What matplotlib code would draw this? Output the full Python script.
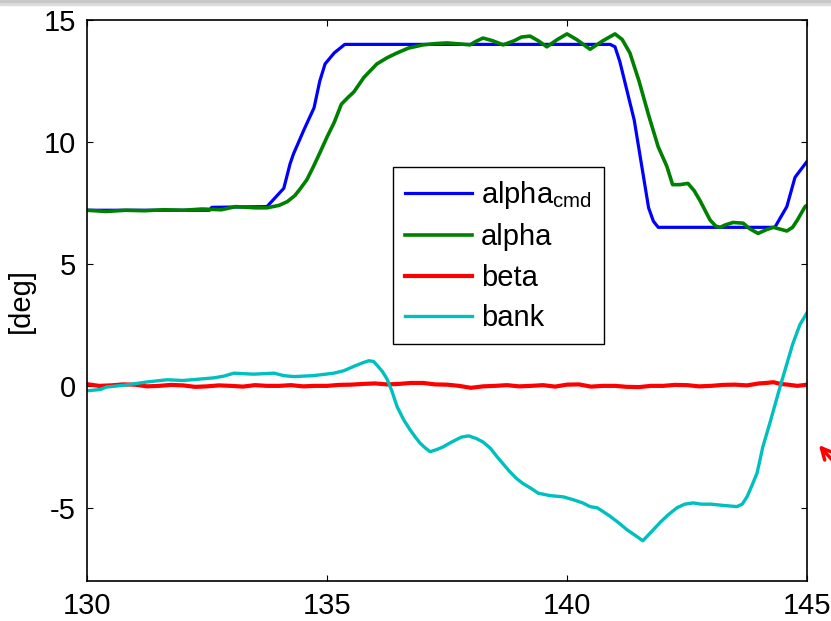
import matplotlib.pyplot as plt
from matplotlib.patches import Rectangle

# alpha command [deg]
t_cmd = [130.0, 132.55, 132.6, 133.75, 134.1, 134.23, 134.3, 134.52, 134.73, 134.85,
         134.96, 135.15, 135.37, 140.9, 141.0, 141.1, 141.4, 141.7, 141.8, 141.9,
         144.33, 144.58, 144.75, 145.0]
alpha_cmd = [7.2, 7.2, 7.32, 7.35, 8.1, 9.1, 9.5, 10.5, 11.4, 12.5,
             13.2, 13.65, 14.0, 14.0, 13.9, 13.3, 10.9, 7.3, 6.75, 6.5,
             6.5, 7.35, 8.55, 9.2]

# measured alpha [deg]
t_alpha = [130.0, 130.4, 130.8, 131.2, 131.6, 132.0, 132.4, 132.8, 133.1, 133.5, 133.75,
           134.0, 134.17, 134.33, 134.45, 134.58, 134.72, 134.85, 135.0, 135.15, 135.3,
           135.45, 135.56, 135.77, 136.04, 136.25, 136.46, 136.7, 137.0, 137.25, 137.5,
           137.75, 137.98, 138.1, 138.25, 138.45, 138.67, 138.9, 139.05, 139.23, 139.4,
           139.58, 139.8, 140.0, 140.2, 140.48, 140.75, 141.0, 141.15, 141.31, 141.5,
           141.7, 141.9, 142.08, 142.2, 142.35, 142.52, 142.65, 142.77, 142.98, 143.1,
           143.19, 143.3, 143.46, 143.67, 143.8, 143.98, 144.15, 144.3, 144.45, 144.58,
           144.7, 144.8, 144.96, 145.0]
alpha = [7.2, 7.15, 7.2, 7.18, 7.22, 7.2, 7.25, 7.22, 7.35, 7.3, 7.3,
         7.4, 7.55, 7.8, 8.1, 8.45, 9.0, 9.55, 10.2, 10.8, 11.55,
         11.85, 12.05, 12.65, 13.2, 13.45, 13.65, 13.85, 13.98, 14.03, 14.06,
         14.02, 13.98, 14.12, 14.26, 14.15, 13.98, 14.15, 14.3, 14.34, 14.15,
         13.9, 14.2, 14.43, 14.2, 13.8, 14.15, 14.43, 14.2, 13.65, 12.5,
         11.1, 9.8, 9.0, 8.25, 8.25, 8.3, 8.0, 7.6, 6.8, 6.55,
         6.5, 6.6, 6.7, 6.67, 6.45, 6.25, 6.4, 6.5, 6.42, 6.35,
         6.5, 6.8, 7.35, 7.4]

# sideslip beta [deg]
t_beta = [130.0, 130.25, 130.5, 130.75, 131.0, 131.25, 131.5, 131.75, 132.0, 132.25,
          132.5, 132.75, 133.0, 133.25, 133.5, 133.75, 134.0, 134.25, 134.5, 134.75,
          135.0, 135.25, 135.5, 135.75, 136.0, 136.25, 136.5, 136.75, 137.0, 137.25,
          137.5, 137.75, 138.0, 138.25, 138.5, 138.75, 139.0, 139.25, 139.5, 139.75,
          140.0, 140.25, 140.5, 140.75, 141.0, 141.25, 141.5, 141.75, 142.0, 142.25,
          142.5, 142.75, 143.0, 143.25, 143.5, 143.75, 144.0, 144.15, 144.3, 144.45,
          144.6, 144.8, 145.0]
beta = [0.07, 0.0, 0.02, 0.06, 0.05, -0.02, 0.0, 0.04, 0.02, -0.04,
        -0.02, 0.02, 0.0, -0.03, 0.03, 0.0, 0.0, 0.03, -0.02, 0.0,
        0.0, 0.04, 0.05, 0.08, 0.1, 0.06, 0.08, 0.12, 0.12, 0.06,
        0.05, 0.0, -0.08, -0.02, 0.0, 0.03, -0.02, 0.0, 0.03, -0.03,
        0.05, 0.06, -0.03, 0.0, 0.0, -0.04, -0.05, 0.0, 0.0, 0.04,
        0.03, -0.02, 0.0, 0.04, 0.05, 0.02, 0.1, 0.12, 0.15, 0.08,
        0.05, 0.0, 0.05]

# bank angle [deg]
t_bank = [130.0, 130.28, 130.4, 130.83, 131.25, 131.67, 132.0, 132.3, 132.65, 132.85,
          133.06, 133.47, 133.9, 134.1, 134.31, 134.72, 135.14, 135.35, 135.56, 135.75,
          135.87, 135.97, 136.04, 136.15, 136.25, 136.35, 136.46, 136.6, 136.73, 136.84,
          136.94, 137.05, 137.15, 137.3, 137.42, 137.6, 137.8, 137.95, 138.1, 138.25,
          138.4, 138.54, 138.67, 138.8, 138.95, 139.08, 139.25, 139.4, 139.65, 139.92,
          140.1, 140.33, 140.48, 140.63, 140.75, 140.9, 141.1, 141.25, 141.4, 141.58,
          141.75, 141.94, 142.1, 142.29, 142.45, 142.63, 142.8, 143.0, 143.25, 143.54,
          143.65, 143.75, 143.85, 143.96, 144.08, 144.23, 144.33, 144.44, 144.55, 144.7,
          144.85, 145.0]
bank = [-0.2, -0.15, -0.05, 0.04, 0.16, 0.25, 0.22, 0.27, 0.33, 0.4,
        0.52, 0.48, 0.52, 0.42, 0.38, 0.42, 0.52, 0.62, 0.8, 0.95,
        1.03, 1.0, 0.85, 0.6, 0.28, -0.2, -0.85, -1.4, -1.8, -2.1,
        -2.35, -2.55, -2.7, -2.6, -2.5, -2.3, -2.1, -2.05, -2.15, -2.3,
        -2.55, -2.9, -3.2, -3.5, -3.8, -4.0, -4.2, -4.4, -4.5, -4.55,
        -4.65, -4.8, -4.95, -5.0, -5.15, -5.35, -5.65, -5.9, -6.1, -6.35,
        -6.0, -5.6, -5.3, -5.0, -4.85, -4.8, -4.85, -4.85, -4.9, -4.95,
        -4.85, -4.55, -4.1, -3.57, -2.5, -1.5, -0.8, -0.03, 0.7, 1.7,
        2.5, 3.0]

xticks = [130, 135, 140, 145]
yticks = [-5, 0, 5, 10, 15]

plt.rcParams['font.family'] = ['Liberation Sans', 'DejaVu Sans']
plt.rcParams['mathtext.fontset'] = 'custom'
plt.rcParams['mathtext.rm'] = 'Liberation Sans'
plt.rcParams['axes.unicode_minus'] = False

fig = plt.figure(figsize=(8.31, 6.21), dpi=100)
ax = fig.add_axes([87 / 831, 40 / 621, 720 / 831, 561 / 621])

ax.plot(t_cmd, alpha_cmd, color='#0000ff', lw=2.3, label=r'alpha$_{\mathrm{cmd}}$')
ax.plot(t_alpha, alpha, color='#008000', lw=2.6, label='alpha')
ax.plot(t_beta, beta, color='#ff0000', lw=3.0, label='beta')
ax.plot(t_bank, bank, color='#00bfbf', lw=2.4, label='bank')

ax.set_xlim(130, 145)
ax.set_ylim(-8, 15)
ax.set_xticks(xticks)
ax.set_yticks(yticks)
ax.tick_params(direction='in', top=True, right=True, length=4, width=0.8,
               labelsize=21, pad=8)
for s in ax.spines.values():
    s.set_linewidth(1.2)
ax.set_ylabel('[deg]', fontsize=21)
ax.yaxis.set_label_coords(-0.072, 0.5)

leg = ax.legend(loc='upper left', bbox_to_anchor=(0.425, 0.738), borderaxespad=0,
                fontsize=21, fancybox=False, framealpha=1, edgecolor='black',
                handlelength=2.3, handletextpad=0.3, labelspacing=0.42,
                borderpad=0.42)
leg.get_frame().set_linewidth(1.0)

# slide shadow at the top and the cut-off arrow on the right
fig.patches.append(Rectangle((0, 1 - 5 / 621), 1, 5 / 621, transform=fig.transFigure,
                             color='#dcdcdc', zorder=0))
fig.patches.append(Rectangle((0, 1 - 2 / 621), 1, 2 / 621, transform=fig.transFigure,
                             color='#c8c8c8', zorder=0))
ax.annotate('', xy=(817, 621 - 443), xycoords='figure pixels',
            xytext=(850, 621 - 480), textcoords='figure pixels',
            arrowprops=dict(arrowstyle='->', color='#ff0000', lw=2.5,
                            mutation_scale=20), annotation_clip=False)

fig.savefig('out.png', dpi=100)
